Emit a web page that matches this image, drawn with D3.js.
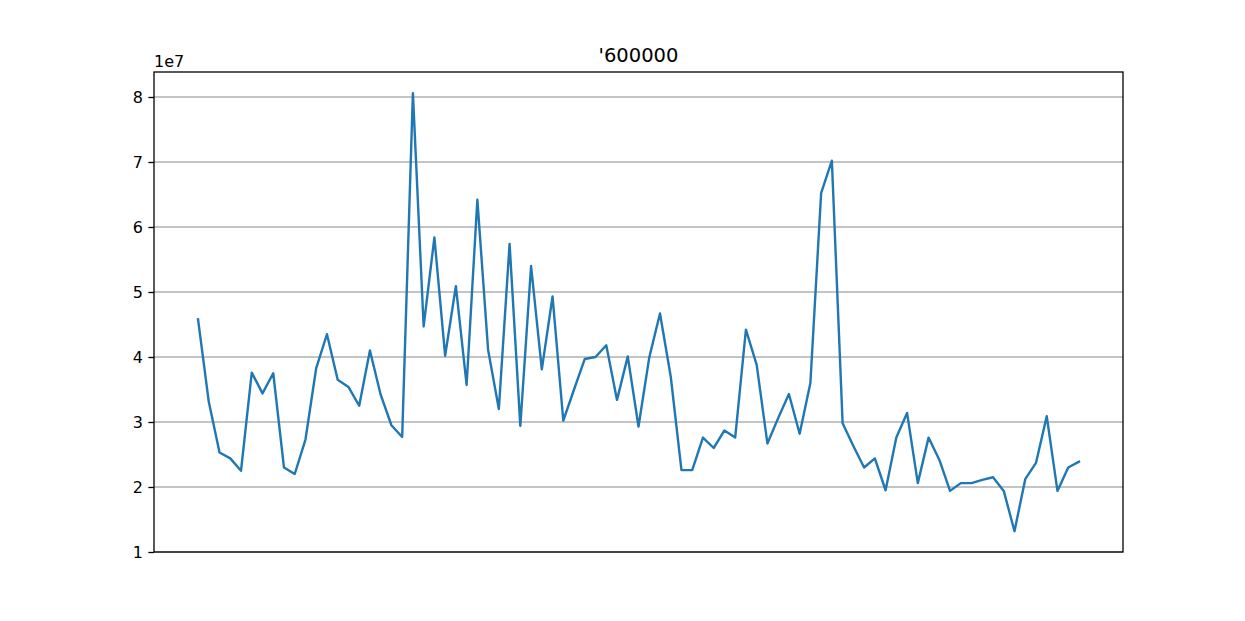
<!DOCTYPE html>
<html>
<head>
<meta charset="utf-8">
<script src="https://cdn.jsdelivr.net/npm/d3@7"></script>
<style>
  html, body { margin: 0; padding: 0; background: #fff; }
  svg { display: block; font-family: "DejaVu Sans", sans-serif; }
</style>
</head>
<body>
<svg id="chart" width="1245" height="621"></svg>
<script>
// Data (values in units of 1e7)
const title = "'600000";
const values = [
  4.58, 3.31, 2.53, 2.44, 2.25, 3.76, 3.44, 3.75, 2.30, 2.20,
  2.73, 3.83, 4.35, 3.65, 3.54, 3.25, 4.10, 3.42, 2.95, 2.77,
  8.06, 4.47, 5.84, 4.02, 5.09, 3.57, 6.42, 4.11, 3.20, 5.74,
  2.94, 5.40, 3.81, 4.93, 3.02, 3.50, 3.97, 4.00, 4.18, 3.34,
  4.01, 2.93, 3.99, 4.67, 3.70, 2.26, 2.26, 2.76, 2.60, 2.87,
  2.76, 4.42, 3.88, 2.67, 3.06, 3.43, 2.82, 3.60, 6.52, 7.02,
  2.98, 2.63, 2.30, 2.44, 1.95, 2.76, 3.14, 2.06, 2.76, 2.42,
  1.94, 2.06, 2.06, 2.11, 2.15, 1.94, 1.32, 2.12, 2.37, 3.09,
  1.94, 2.30, 2.39
];
const yTicks = [1, 2, 3, 4, 5, 6, 7, 8];
const offsetLabel = "1e7";

const svg = d3.select("#chart");
const L = 154, R = 1123, T = 72, B = 552;

const n = values.length;
const xPad = (n - 1) * 0.05;
const x = d3.scaleLinear().domain([-xPad, n - 1 + xPad]).range([L, R]);
const y = d3.scaleLinear().domain([1.0, 1.0 + (B - T) / 65]).range([B, T]);

// grid
svg.append("g")
  .selectAll("line")
  .data(yTicks)
  .join("line")
  .attr("x1", L).attr("x2", R)
  .attr("y1", d => y(d)).attr("y2", d => y(d))
  .attr("stroke", "#b0b0b0")
  .attr("stroke-width", 1.3);

// line
const line = d3.line().x((d, i) => x(i)).y(d => y(d));
svg.append("path")
  .datum(values)
  .attr("d", line)
  .attr("fill", "none")
  .attr("stroke", "#1f77b4")
  .attr("stroke-width", 2.4)
  .attr("stroke-linejoin", "round")
  .attr("stroke-linecap", "square");

// y axis
const yAxis = d3.axisLeft(y).tickValues(yTicks).tickSize(5.6).tickPadding(5.6).tickFormat(d3.format("d"));
const gy = svg.append("g").attr("transform", `translate(${L},0)`).call(yAxis);
gy.select(".domain").remove();
gy.selectAll(".tick line").attr("stroke", "#000").attr("stroke-width", 1.3);
gy.selectAll(".tick text").attr("font-size", 16).attr("fill", "#000")
  .attr("font-family", "DejaVu Sans, sans-serif");

// frame
svg.append("rect")
  .attr("x", L).attr("y", T)
  .attr("width", R - L).attr("height", B - T)
  .attr("fill", "none").attr("stroke", "#000").attr("stroke-width", 1.3);

// offset label
svg.append("text")
  .attr("x", L).attr("y", 67)
  .attr("font-size", 16).attr("fill", "#000")
  .text(offsetLabel);

// title
svg.append("text")
  .attr("x", (L + R) / 2).attr("y", 62)
  .attr("text-anchor", "middle")
  .attr("font-size", 19.5).attr("fill", "#000")
  .text(title);
</script>
</body>
</html>
